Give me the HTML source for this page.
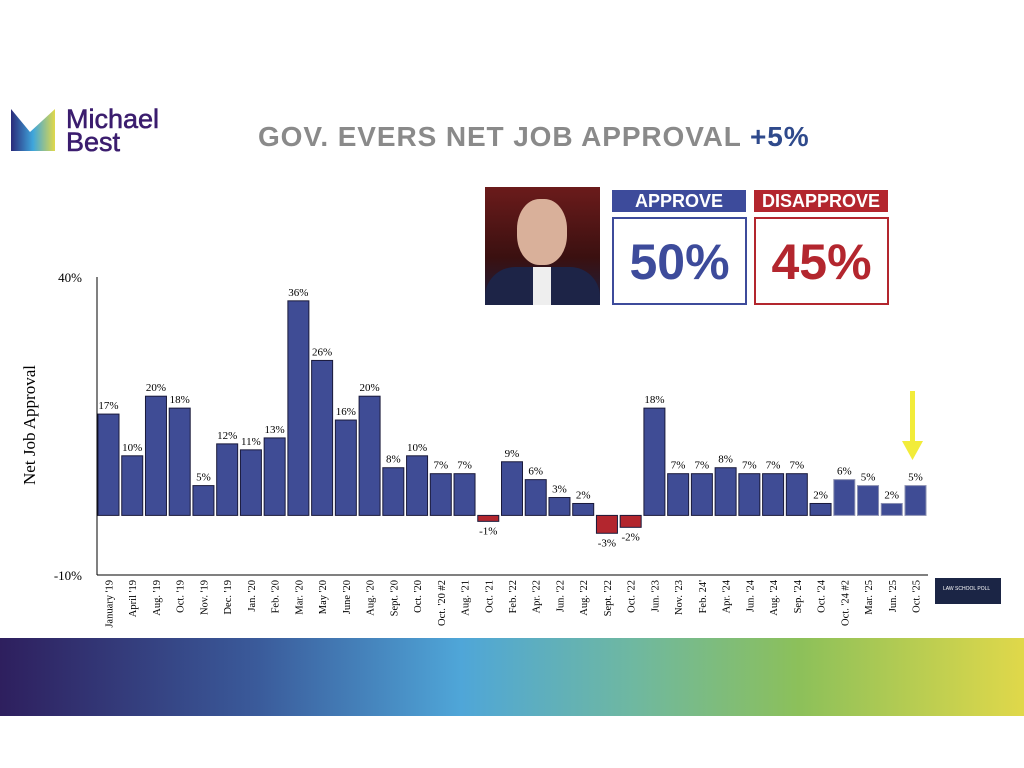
<!DOCTYPE html>
<html><head><meta charset="utf-8"><style>
body{margin:0;width:1024px;height:768px;background:#fff;position:relative;overflow:hidden;font-family:"Liberation Sans",sans-serif}
.abs{position:absolute}
</style></head><body>
<div class="abs" style="left:10px;top:104px;width:170px;height:52px">
<svg width="170" height="52"><defs><linearGradient id="lg" x1="0" x2="1"><stop offset="0" stop-color="#2a2a7a"/><stop offset="0.5" stop-color="#3fa6dc"/><stop offset="1" stop-color="#e0d84a"/></linearGradient></defs>
<path d="M1,5 L20,28 L45,5 L45,47 L1,47 Z" fill="url(#lg)"/>
<text x="56" y="24" font-size="27" fill="#3b1d6e" stroke="#3b1d6e" stroke-width="0.6" font-family="Liberation Sans">Michael</text>
<text x="56" y="47" font-size="27" fill="#3b1d6e" stroke="#3b1d6e" stroke-width="0.6" font-family="Liberation Sans">Best</text></svg></div>
<div class="abs" style="left:258px;top:121px;font-size:28px;font-weight:bold;color:#8a8a8a;letter-spacing:0.9px">GOV. EVERS NET JOB APPROVAL <span style="color:#2f4a8c">+5%</span></div>
<div class="abs" style="left:485px;top:187px;width:115px;height:118px;background:linear-gradient(180deg,#6b1b1b,#3a1010 60%,#1b2040);overflow:hidden">
<div style="position:absolute;left:32px;top:12px;width:50px;height:66px;border-radius:45%;background:#d9b09a"></div>
<div style="position:absolute;left:0;top:80px;width:115px;height:40px;background:#1d2447;border-radius:30px 30px 0 0"></div>
<div style="position:absolute;left:48px;top:80px;width:18px;height:40px;background:#eee"></div></div>
<div class="abs" style="left:612px;top:190px;width:134px;height:22px;background:#3d4b9b;color:#fff;font-weight:bold;font-size:18px;text-align:center;line-height:22px">APPROVE</div>
<div class="abs" style="left:612px;top:217px;width:131px;height:84px;border:2px solid #3d4b9b;color:#3d4b9b;font-weight:bold;font-size:50px;text-align:center;line-height:86px">50%</div>
<div class="abs" style="left:754px;top:190px;width:134px;height:22px;background:#b3262e;color:#fff;font-weight:bold;font-size:18px;text-align:center;line-height:22px">DISAPPROVE</div>
<div class="abs" style="left:754px;top:217px;width:131px;height:84px;border:2px solid #b3262e;color:#b3262e;font-weight:bold;font-size:50px;text-align:center;line-height:86px">45%</div>
<svg id="chart" class="abs" style="left:0;top:0" width="1024" height="640"></svg>
<div class="abs" style="left:935px;top:578px;width:66px;height:26px;background:#1b2545;color:#fff;font-size:5px;padding:8px 0 0 8px;box-sizing:border-box">LAW SCHOOL POLL</div>
<div class="abs" style="left:0;top:638px;width:1024px;height:78px;background:linear-gradient(90deg,#2e1f5e 0%,#3a5a9a 25%,#4fa6d8 45%,#6fb8a0 62%,#8cc05a 78%,#e0d84a 100%)"></div>
<script>
const categories=["January '19","April '19","Aug. '19","Oct. '19","Nov. '19","Dec. '19","Jan. '20","Feb. '20","Mar. '20","May '20","June '20","Aug. '20","Sept. '20","Oct. '20","Oct. '20 #2","Aug. '21","Oct. '21","Feb. '22","Apr. '22","Jun. '22","Aug. '22","Sept. '22","Oct. '22","Jun. '23","Nov. '23","Feb. 24'","Apr. '24","Jun. '24","Aug. '24","Sep. '24","Oct. '24","Oct. '24 #2","Mar. '25","Jun. '25","Oct. '25"];
const values=[17,10,20,18,5,12,11,13,36,26,16,20,8,10,7,7,-1,9,6,3,2,-3,-2,18,7,7,8,7,7,7,2,6,5,2,5];
const yTicks=[40,-10];
const svg=document.getElementById('chart');const NS='http://www.w3.org/2000/svg';
const y=v=>277+(40-v)*(298/50);
const x=i=>98+i*((905-98)/(categories.length-1));
const bw=21;
function mk(t,a,p){const e=document.createElementNS(NS,t);for(const k in a)e.setAttribute(k,a[k]);(p||svg).appendChild(e);return e;}
let l=mk('line',{x1:97,y1:277,x2:97,y2:575,stroke:'#000','stroke-width':1});


l=mk('line',{x1:97,y1:575,x2:928,y2:575,stroke:'#000','stroke-width':1});


yTicks.forEach(v=>{const t=mk('text',{x:82,y:y(v)+5,'text-anchor':'end','font-size':13,'font-family':'Liberation Serif'});t.textContent=v+'%';

});
const yl=mk('text',{x:0,y:0,transform:'translate(35,425) rotate(-90)','text-anchor':'middle','font-size':17,'font-family':'Liberation Serif'});yl.textContent='Net  Job  Approval';


values.forEach((v,i)=>{const neg=v<0;const y0=y(0),y1=y(v);
const late=i>=31;
const r=mk('rect',{x:x(i),y:Math.min(y0,y1),width:bw,height:Math.abs(y1-y0),fill:neg?'#b3262e':'#3f4c95',stroke:late?'#8a8fb0':'#1a1a3a','stroke-width':1});


const t=mk('text',{x:x(i)+bw/2,y:neg?y1+13:y1-5,'text-anchor':'middle','font-size':11,'font-family':'Liberation Serif'});t.textContent=v+'%';


const c=mk('text',{x:0,y:0,transform:`translate(${x(i)+bw/2+4},580) rotate(-90)`,'text-anchor':'end','font-size':10.5,'font-family':'Liberation Serif'});c.textContent=categories[i];

});
const ar=mk('g',{});


mk('rect',{x:910,y:391,width:5,height:50,fill:'#f2ec3a'},ar);
mk('path',{d:'M902,441 L923,441 L912.5,460 Z',fill:'#f2ec3a'},ar);
</script>
</body></html>
